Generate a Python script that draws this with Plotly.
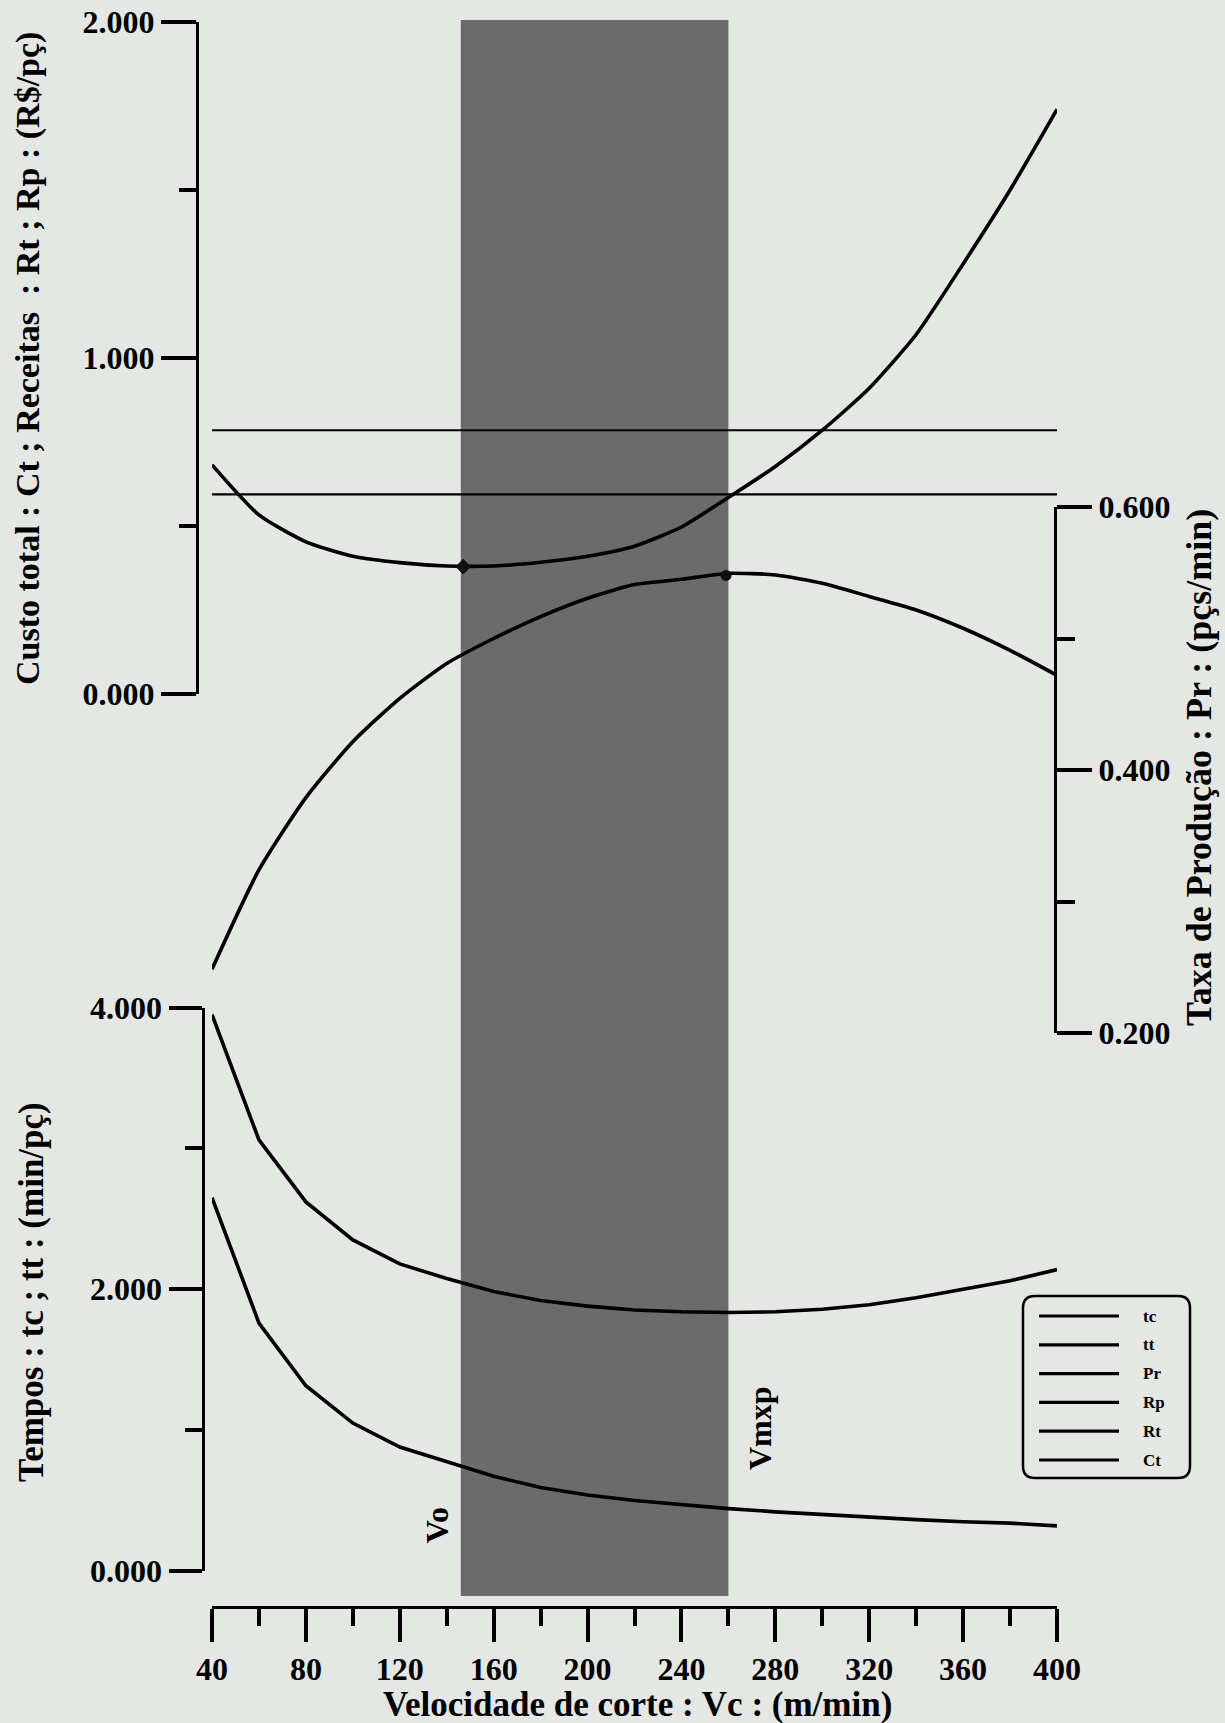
import plotly.graph_objects as go

W, H = 1225, 1723

# ---------------- data ----------------
vc = [40, 60, 80, 100, 120, 140, 160, 180, 200, 220, 240, 260, 280, 300, 320, 340, 360, 380, 400]
ct = [0.682, 0.533, 0.453, 0.410, 0.391, 0.381, 0.381, 0.392, 0.410, 0.440, 0.497, 0.585, 0.677, 0.785,
      0.910, 1.070, 1.280, 1.500, 1.740]
rt = [0.785] * len(vc)
rp = [0.594] * len(vc)
pr = [0.2485, 0.324, 0.379, 0.4215, 0.4545, 0.481, 0.500, 0.5166, 0.5306, 0.541, 0.545, 0.5496, 0.5483,
      0.542, 0.532, 0.5217, 0.5078, 0.491, 0.472]
tt = [3.95, 3.06, 2.62, 2.35, 2.18, 2.076, 1.984, 1.92, 1.88, 1.853, 1.84, 1.835, 1.84, 1.858, 1.89,
      1.94, 2.00, 2.06, 2.14]
tc = [2.65, 1.76, 1.315, 1.05, 0.88, 0.777, 0.672, 0.593, 0.54, 0.50, 0.47, 0.443, 0.42, 0.40, 0.38,
      0.365, 0.35, 0.34, 0.32]

vo = 147          # velocidade de mínimo custo
vmxp = 259        # velocidade de máxima produção
ct_vo = 0.379
pr_vmxp = 0.548

x_ticks = [40, 80, 120, 160, 200, 240, 280, 320, 360, 400]
x_minor = [60, 100, 140, 180, 220, 260, 300, 340, 380]
legend_names = ["tc", "tt", "Pr", "Rp", "Rt", "Ct"]

# --------------- helpers (pixel -> paper) ---------------
def px(x):
    return x / W

def py(y):
    return (H - y) / H

FONT = "Liberation Serif, Times New Roman, serif"
BG = "#e4e7e3"
TRANSP = "rgba(0,0,0,0)"

fig = go.Figure()

line_thick = dict(color="black", width=3.6)
line_smooth = dict(color="black", width=3.6, shape="spline", smoothing=0.6)
line_thin = dict(color="black", width=2.2)

fig.add_trace(go.Scatter(x=vc, y=tc, mode="lines", line=line_thick, xaxis="x", yaxis="y3", name="tc"))
fig.add_trace(go.Scatter(x=vc, y=tt, mode="lines", line=line_thick, xaxis="x", yaxis="y3", name="tt"))
fig.add_trace(go.Scatter(x=vc, y=pr, mode="lines", line=line_smooth, xaxis="x", yaxis="y2", name="Pr"))
fig.add_trace(go.Scatter(x=vc, y=rp, mode="lines", line=line_thin, xaxis="x", yaxis="y", name="Rp"))
fig.add_trace(go.Scatter(x=vc, y=rt, mode="lines", line=line_thin, xaxis="x", yaxis="y", name="Rt"))
fig.add_trace(go.Scatter(x=vc, y=ct, mode="lines", line=line_smooth, xaxis="x", yaxis="y", name="Ct"))
fig.add_trace(go.Scatter(x=[vo], y=[ct_vo], mode="markers", marker=dict(color="#111", size=12, symbol="diamond"),
                         xaxis="x", yaxis="y", showlegend=False))
fig.add_trace(go.Scatter(x=[vmxp], y=[pr_vmxp], mode="markers", marker=dict(color="#111", size=11),
                         xaxis="x", yaxis="y2", showlegend=False))

tickfont = dict(family=FONT, size=32, color="black", weight="bold")

x_left, x_right = 212, 1057
yaxis_common = dict(showgrid=False, zeroline=False, showline=True, linecolor="black", linewidth=3,
                    ticks="outside", tickwidth=3.5, tickcolor="black", tickfont=tickfont, anchor="free")

fig.update_layout(
    width=W, height=H,
    margin=dict(l=0, r=0, t=0, b=0, pad=0, autoexpand=False),
    paper_bgcolor=BG, plot_bgcolor=TRANSP,
    showlegend=False,
    font=dict(family=FONT, color="black"),
    xaxis=dict(domain=[px(x_left), px(x_right)], range=[40, 400], anchor="free", position=py(1606.5),
               showgrid=False, zeroline=False, showline=True, linecolor="black", linewidth=3,
               ticks="outside", ticklen=33, tickwidth=3.5, tickcolor="black",
               tickvals=x_ticks, ticktext=[str(v) for v in x_ticks], tickfont=tickfont,
               ticklabelstandoff=0,
               minor=dict(ticks="outside", ticklen=17, tickwidth=3.5, tickcolor="black", tickvals=x_minor)),
    yaxis=dict(yaxis_common, domain=[py(694), py(22)], range=[0, 2], position=px(197), side="left",
               ticklen=35, tickvals=[0, 1, 2], ticktext=["0.000", "1.000", "2.000"],
               minor=dict(ticks="outside", ticklen=17, tickwidth=3.5, tickcolor="black", tickvals=[0.5, 1.5])),
    yaxis2=dict(yaxis_common, domain=[py(1033), py(507)], range=[0.2, 0.6], position=px(1055), side="right",
                ticklen=35, tickvals=[0.2, 0.4, 0.6], ticktext=["0.200", "0.400", "0.600"],
                minor=dict(ticks="outside", ticklen=18, tickwidth=3.5, tickcolor="black", tickvals=[0.3, 0.5])),
    yaxis3=dict(yaxis_common, domain=[py(1571), py(1007.5)], range=[0, 4], position=px(202.5), side="left",
                ticklen=33, tickvals=[0, 2, 4], ticktext=["0.000", "2.000", "4.000"],
                minor=dict(ticks="outside", ticklen=17, tickwidth=3.5, tickcolor="black", tickvals=[1, 3])),
)

# shaded region between Vo and Vmxp
fig.add_shape(type="rect", xref="x", yref="paper", x0=vo - 1, x1=vmxp + 1, y0=py(1596), y1=py(20),
              fillcolor="#6b6b6b", line=dict(width=0), layer="below")

ann_font = dict(family=FONT, size=35, color="black", weight="bold")
center = dict(xanchor="center", yanchor="middle", showarrow=False)
fig.add_annotation(text="Custo total : Ct ; Receitas  : Rt ; Rp : (R$/pç)", xref="paper", yref="paper",
                   x=px(28), y=py(359), textangle=-90, font=dict(ann_font, size=34), **center)
fig.add_annotation(text="Tempos : tc ; tt : (min/pç)", xref="paper", yref="paper",
                   x=px(31), y=py(1292), textangle=-90, font=ann_font, **center)
fig.add_annotation(text="Taxa de Produção : Pr : (pçs/min)", xref="paper", yref="paper",
                   x=px(1199), y=py(768), textangle=-90, font=dict(ann_font, size=36), **center)
fig.add_annotation(text="Velocidade de corte : Vc : (m/min)", xref="paper", yref="paper",
                   x=px(637), y=py(1704), font=ann_font, **center)
fig.add_annotation(text="Vo", xref="x", yref="paper", x=vo, xshift=-26, y=py(1525),
                   textangle=-90, font=dict(ann_font, size=32), **center)
fig.add_annotation(text="Vmxp", xref="x", yref="paper", x=vmxp, xshift=34, y=py(1428),
                   textangle=-90, font=dict(ann_font, size=32), **center)

# custom legend box (rounded)
bx0, bx1, by0, by1, r = 1023, 1190, 1296, 1478, 12
path = (f"M {px(bx0 + r)},{py(by0)} L {px(bx1 - r)},{py(by0)} Q {px(bx1)},{py(by0)} {px(bx1)},{py(by0 + r)} "
        f"L {px(bx1)},{py(by1 - r)} Q {px(bx1)},{py(by1)} {px(bx1 - r)},{py(by1)} "
        f"L {px(bx0 + r)},{py(by1)} Q {px(bx0)},{py(by1)} {px(bx0)},{py(by1 - r)} "
        f"L {px(bx0)},{py(by0 + r)} Q {px(bx0)},{py(by0)} {px(bx0 + r)},{py(by0)} Z")
fig.add_shape(type="path", xref="paper", yref="paper", path=path, line=dict(color="black", width=2.5))
row0, dy = 1316, 28.8
for i, name in enumerate(legend_names):
    yy = row0 + i * dy
    fig.add_shape(type="line", xref="paper", yref="paper", x0=px(1039), x1=px(1119), y0=py(yy), y1=py(yy),
                  line=dict(color="black", width=3.2))
    fig.add_annotation(text=name, xref="paper", yref="paper", x=px(1141), y=py(yy), xanchor="left",
                       yanchor="middle", showarrow=False,
                       font=dict(family=FONT, size=17, color="black", weight="bold"))

fig.write_html("out.html", config={"displayModeBar": False},
               post_script="document.body.style.margin='0';document.body.style.overflow='hidden';")
